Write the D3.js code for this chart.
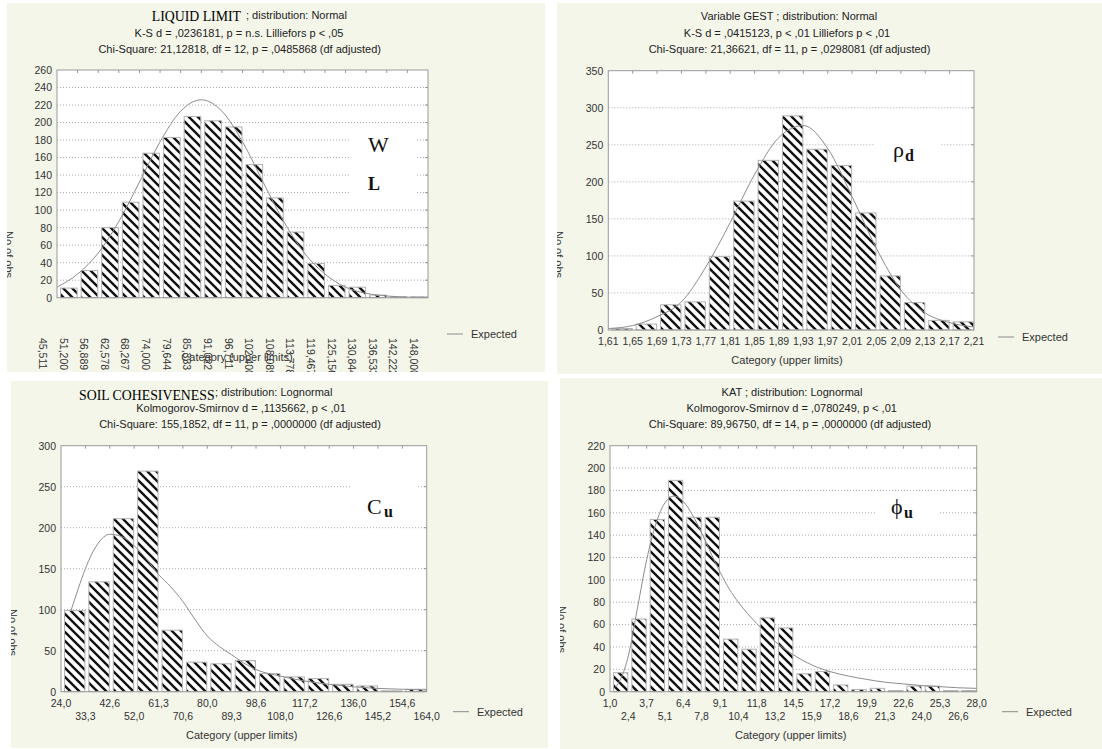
<!DOCTYPE html>
<html>
<head>
<meta charset="utf-8">
<script src="https://cdn.jsdelivr.net/npm/d3@7"></script>
<style>
  body { margin: 0; background: #fff; }
  svg text { font-family: "Liberation Sans", Arial, sans-serif; fill: #222; }
</style>
</head>
<body>
<svg id="chart" width="1102" height="749"></svg>
<script>
// ---- values ----

// liquid limit W_L
var wlLimits = ["45,511", "51,200", "56,889", "62,578", "68,267", "74,000", "79,644", "85,333", "91,022", "96,711",
  "102,400", "108,089", "113,778", "119,467", "125,156", "130,844", "136,533", "142,222", "148,000"];
var wlCounts = [11, 31, 80, 109, 165, 183, 207, 202, 195, 152, 114, 75, 39, 14, 12, 3, 1, 1];
var wlExpected = [[0, 12], [1, 27], [2, 51], [3, 87], [4, 132], [5, 178], [6, 213], [7, 226], [8, 213], [9, 178],
  [10, 132], [11, 87], [12, 51], [13, 27], [14, 12], [15, 5], [16, 2], [17, 0.6], [18, 0.2]];

// dry density rho_d
var gestLimits = ["1,61", "1,65", "1,69", "1,73", "1,77", "1,81", "1,85", "1,89", "1,93", "1,97", "2,01", "2,05",
  "2,09", "2,13", "2,17", "2,21"];
var gestCounts = [2, 8, 34, 38, 99, 174, 229, 289, 244, 222, 158, 73, 37, 13, 11];
var gestExpected = [[0, 2], [1, 6], [2, 18], [3, 38], [4, 85], [5, 145], [6, 210], [7, 260], [8, 276], [9, 245],
  [10, 180], [11, 110], [12, 54], [13, 23], [14, 10], [15, 4]];

// cohesion C_u
var cuLimits = ["24,0", "33,3", "42,6", "52,0", "61,3", "70,6", "80,0", "89,3", "98,6", "108,0", "117,2", "126,6",
  "136,0", "145,2", "154,6", "164,0"];
var cuCounts = [99, 134, 211, 269, 75, 36, 34, 38, 22, 18, 16, 9, 7, 1, 3];
var cuExpected = [[0.4, 98], [0.7, 125], [1, 150], [1.5, 180], [2, 192], [2.5, 189], [3, 178], [3.5, 162], [4, 143],
  [4.5, 128], [5, 110], [5.5, 88], [6, 68], [6.5, 55], [7, 45], [7.5, 35], [8, 27], [9, 19], [10, 13], [11, 9],
  [12, 6], [13, 4], [14, 3], [15, 2]];

// friction angle phi_u
var katLimits = ["1,0", "2,4", "3,7", "5,1", "6,4", "7,8", "9,1", "10,4", "11,8", "13,2", "14,5", "15,9", "17,2",
  "18,6", "19,9", "21,3", "22,6", "24,0", "25,3", "26,6", "28,0"];
var katCounts = [17, 65, 154, 189, 156, 156, 47, 38, 66, 57, 16, 18, 6, 2, 3, 1, 5, 5, 1, 1];
var katExpected = [[0.3, 4], [0.6, 12], [1, 32], [1.5, 75], [2, 118], [2.5, 150], [3, 169], [3.5, 175], [4, 170],
  [4.5, 158], [5, 142], [5.5, 124], [6, 107], [6.5, 92], [7, 80], [7.5, 70], [8, 61], [9, 45], [10, 33], [11, 24],
  [12, 18], [13, 14], [14, 11], [15, 8.5], [16, 7], [17, 5.5], [18, 4.5], [19, 3.5], [20, 3]];

var serif = "'Liberation Serif', 'Times New Roman', serif";

var svg = d3.select("#chart");
var defs = svg.append("defs");

// black diagonal hatching of the bars
var hatch = defs.append("pattern")
  .attr("id", "hatch")
  .attr("patternUnits", "userSpaceOnUse")
  .attr("width", 9)
  .attr("height", 9);
hatch.append("rect").attr("width", 9).attr("height", 9).attr("fill", "#fff");
hatch.append("path")
  .attr("d", "M-3,-3 L12,12 M-3,6 L3,12 M6,-3 L12,3")
  .attr("stroke", "#111")
  .attr("stroke-width", 2.4);

var panels = [
  {
    box: [7, 3, 545, 372], left: 57, right: 428, top: 70, bottom: 297.7,
    yMax: 260, yStep: 20, counts: wlCounts, limits: wlLimits, expected: wlExpected,
    labelMode: "rotated", labelShift: -14, labelTop: 338,
    xTitle: [237, 361], legend: [447, 334],
    titles: [
      { text: "LIQUID LIMIT", x: 241, y: 20.7, anchor: "end", font: serif, size: 13.8 },
      { text: "; distribution: Normal", x: 246, y: 19, anchor: "start", size: 11 },
      { text: "K-S d = ,0236181, p = n.s. Lilliefors p < ,05", x: 239, y: 36.7, anchor: "middle", size: 11 },
      { text: "Chi-Square: 21,12818, df = 12, p = ,0485868 (df adjusted)", x: 239.7, y: 53.3, anchor: "middle", size: 11 }
    ],
    patch: [350, 128, 67, 72],
    marks: [
      { text: "W", x: 368, y: 152, size: 22 },
      { text: "L", x: 368, y: 190, size: 18, weight: "bold" }
    ]
  },
  {
    box: [557, 3, 1102, 374], left: 608.3, right: 974, top: 70.7, bottom: 330,
    yMax: 350, yStep: 50, counts: gestCounts, limits: gestLimits, expected: gestExpected,
    labelMode: "single", labelY: 345,
    xTitle: [787, 364], legend: [998, 337],
    titles: [
      { text: "Variable GEST ; distribution: Normal", x: 789, y: 20, anchor: "middle", size: 11 },
      { text: "K-S d = ,0415123, p < ,01 Lilliefors p < ,01", x: 787, y: 36.7, anchor: "middle", size: 11 },
      { text: "Chi-Square: 21,36621, df = 11, p = ,0298081 (df adjusted)", x: 789.5, y: 53, anchor: "middle", size: 11 }
    ],
    patch: [875, 132, 65, 30],
    marks: [
      { text: "ρ", x: 893, y: 157, size: 22 },
      { text: "d", x: 905, y: 161, size: 16, weight: "bold" }
    ]
  },
  {
    box: [11, 381, 548, 748], left: 61, right: 426.7, top: 445.7, bottom: 691.7,
    yMax: 300, yStep: 50, counts: cuCounts, limits: cuLimits, expected: cuExpected,
    labelMode: "double", labelY: [706.7, 720],
    xTitle: [241.7, 739], legend: [453, 711.7],
    titles: [
      { text: "SOIL COHESIVENESS", x: 79, y: 400, anchor: "start", font: serif, size: 13.8 },
      { text: "; distribution: Lognormal", x: 215, y: 395.5, anchor: "start", size: 11 },
      { text: "Kolmogorov-Smirnov d = ,1135662, p < ,01", x: 241, y: 411.7, anchor: "middle", size: 11 },
      { text: "Chi-Square: 155,1852, df = 11, p = ,0000000 (df adjusted)", x: 240, y: 428.3, anchor: "middle", size: 11 }
    ],
    patch: [350, 478, 67, 42],
    marks: [
      { text: "C", x: 367, y: 513.5, size: 22 },
      { text: "u", x: 384, y: 516.7, size: 16, weight: "bold" }
    ]
  },
  {
    box: [560, 378, 1102, 749], left: 610, right: 976.7, top: 445.7, bottom: 691.7,
    yMax: 220, yStep: 20, counts: katCounts, limits: katLimits, expected: katExpected,
    labelMode: "double", labelY: [706.7, 720],
    xTitle: [790.7, 739], legend: [1002, 711.7],
    titles: [
      { text: "KAT ; distribution: Lognormal", x: 792, y: 395.5, anchor: "middle", size: 11 },
      { text: "Kolmogorov-Smirnov d = ,0780249, p < ,01", x: 791.7, y: 411.7, anchor: "middle", size: 11 },
      { text: "Chi-Square: 89,96750, df = 14, p = ,0000000 (df adjusted)", x: 790, y: 428, anchor: "middle", size: 11 }
    ],
    patch: [875, 498, 65, 27],
    marks: [
      { text: "ϕ", x: 891, y: 514, size: 22 },
      { text: "u", x: 904, y: 517.7, size: 16, weight: "bold" }
    ]
  }
];

panels.forEach(drawPanel);

function drawPanel(p, k) {
  var n = p.counts.length;
  var x = d3.scaleLinear().domain([0, n]).range([p.left, p.right]);
  var y = d3.scaleLinear().domain([0, p.yMax]).range([p.bottom, p.top]);
  var yTicks = d3.range(0, p.yMax + 1, p.yStep);
  var slot = x(1) - x(0);

  defs.append("clipPath").attr("id", "box" + k).append("rect")
    .attr("x", p.box[0] - 5).attr("y", p.box[1])
    .attr("width", p.box[2] - p.box[0] + 5).attr("height", p.box[3] - p.box[1]);
  defs.append("clipPath").attr("id", "plot" + k).append("rect")
    .attr("x", p.left).attr("y", p.top)
    .attr("width", p.right - p.left).attr("height", p.bottom - p.top);

  var g = svg.append("g").attr("clip-path", "url(#box" + k + ")");

  // panel background
  g.append("rect")
    .attr("x", p.box[0]).attr("y", p.box[1])
    .attr("width", p.box[2] - p.box[0]).attr("height", p.box[3] - p.box[1])
    .attr("fill", "#f4f6ea");

  // plot area
  g.append("rect")
    .attr("x", p.left).attr("y", p.top)
    .attr("width", p.right - p.left).attr("height", p.bottom - p.top)
    .attr("fill", "#fff");

  // dotted grid
  g.append("g").selectAll("line")
    .data(yTicks.filter(function(v) { return v > 0 && v < p.yMax; }))
    .enter()
    .append("line")
    .attr("x1", p.left).attr("x2", p.right)
    .attr("y1", function(d) { return y(d); })
    .attr("y2", function(d) { return y(d); })
    .attr("stroke", "#aaa")
    .attr("stroke-dasharray", "1,2");

  // white patch under the symbol, it breaks the grid lines
  g.append("rect")
    .attr("x", p.patch[0]).attr("y", p.patch[1])
    .attr("width", p.patch[2]).attr("height", p.patch[3])
    .attr("fill", "#fff");

  // bars
  g.append("g").selectAll("rect")
    .data(p.counts)
    .enter()
    .append("rect")
    .attr("x", function(d, i) { return x(i) + 3.5; })
    .attr("width", slot - 4)
    .attr("y", function(d) { return y(d); })
    .attr("height", function(d) { return y(0) - y(d); })
    .attr("fill", "url(#hatch)")
    .attr("stroke", "#b3b3b3")
    .attr("stroke-width", 1);

  // expected curve
  var line = d3.line()
    .x(function(d) { return x(d[0]); })
    .y(function(d) { return y(d[1]); })
    .curve(d3.curveMonotoneX);
  g.append("path")
    .datum(p.expected)
    .attr("d", line)
    .attr("fill", "none")
    .attr("stroke", "#8c8c8c")
    .attr("stroke-width", 1)
    .attr("clip-path", "url(#plot" + k + ")");

  // frame and small ticks
  g.append("rect")
    .attr("x", p.left).attr("y", p.top)
    .attr("width", p.right - p.left).attr("height", p.bottom - p.top)
    .attr("fill", "none")
    .attr("stroke", "#999");
  g.append("g").selectAll("line")
    .data(d3.range(1, n))
    .enter()
    .append("line")
    .attr("x1", function(d) { return x(d); })
    .attr("x2", function(d) { return x(d); })
    .attr("y1", p.top).attr("y2", p.top + 3)
    .attr("stroke", "#999");
  g.append("g").selectAll("line")
    .data(yTicks.slice(1, -1))
    .enter()
    .append("line")
    .attr("x1", p.right - 3).attr("x2", p.right)
    .attr("y1", function(d) { return y(d); })
    .attr("y2", function(d) { return y(d); })
    .attr("stroke", "#999");

  // y axis
  var yAxis = g.append("g")
    .attr("transform", "translate(" + p.left + ",0)")
    .call(d3.axisLeft(y).tickValues(yTicks).tickSize(0).tickPadding(5));
  yAxis.select(".domain").remove();
  yAxis.selectAll("text").style("font-size", "10.5px").style("fill", "#333");

  // category limits
  var labels = g.append("g").selectAll("text")
    .data(p.limits)
    .enter()
    .append("text")
    .style("font-size", "10.5px")
    .style("fill", "#333")
    .text(function(d) { return d; });
  if (p.labelMode === "rotated") {
    labels
      .attr("x", function(d, i) { return x(i) + p.labelShift; })
      .attr("y", p.labelTop)
      .attr("dominant-baseline", "central")
      .attr("transform", function(d, i) {
        return "rotate(90," + (x(i) + p.labelShift) + "," + p.labelTop + ")";
      });
  } else if (p.labelMode === "single") {
    labels
      .attr("x", function(d, i) { return x(i); })
      .attr("y", p.labelY)
      .attr("text-anchor", "middle");
  } else {
    labels
      .attr("x", function(d, i) { return x(i); })
      .attr("y", function(d, i) { return p.labelY[i % 2]; })
      .attr("text-anchor", "middle");
  }

  // axis titles
  g.append("text")
    .attr("x", p.xTitle[0]).attr("y", p.xTitle[1])
    .attr("text-anchor", "middle")
    .style("font-size", "11px")
    .style("fill", "#333")
    .text("Category (upper limits)");

  // the y title is cut off at the left edge of the panel
  var ty = p.box[1] + 228;
  var tx = p.box[0] - 2;
  defs.append("clipPath").attr("id", "ytitle" + k).append("rect")
    .attr("x", p.box[0]).attr("y", ty - 5).attr("width", 20).attr("height", 70);
  g.append("g")
    .attr("clip-path", "url(#ytitle" + k + ")")
    .append("text")
    .attr("x", tx).attr("y", ty)
    .attr("transform", "rotate(90," + tx + "," + ty + ")")
    .style("font-size", "11px")
    .style("fill", "#333")
    .text("No of obs");

  // legend
  g.append("line")
    .attr("x1", p.legend[0]).attr("x2", p.legend[0] + 16)
    .attr("y1", p.legend[1]).attr("y2", p.legend[1])
    .attr("stroke", "#8c8c8c");
  g.append("text")
    .attr("x", p.legend[0] + 24).attr("y", p.legend[1])
    .attr("dominant-baseline", "central")
    .style("font-size", "11px")
    .style("fill", "#333")
    .text("Expected");

  // chart titles
  p.titles.forEach(function(t) {
    g.append("text")
      .attr("x", t.x).attr("y", t.y)
      .attr("text-anchor", t.anchor)
      .style("font-family", t.font || null)
      .style("font-size", t.size + "px")
      .style("fill", t.font ? "#000" : "#222")
      .text(t.text);
  });

  // symbol of the variable
  p.marks.forEach(function(m) {
    g.append("text")
      .attr("x", m.x).attr("y", m.y)
      .style("font-family", serif)
      .style("font-size", m.size + "px")
      .style("font-weight", m.weight || "normal")
      .style("fill", "#111")
      .text(m.text);
  });
}
</script>
</body>
</html>
